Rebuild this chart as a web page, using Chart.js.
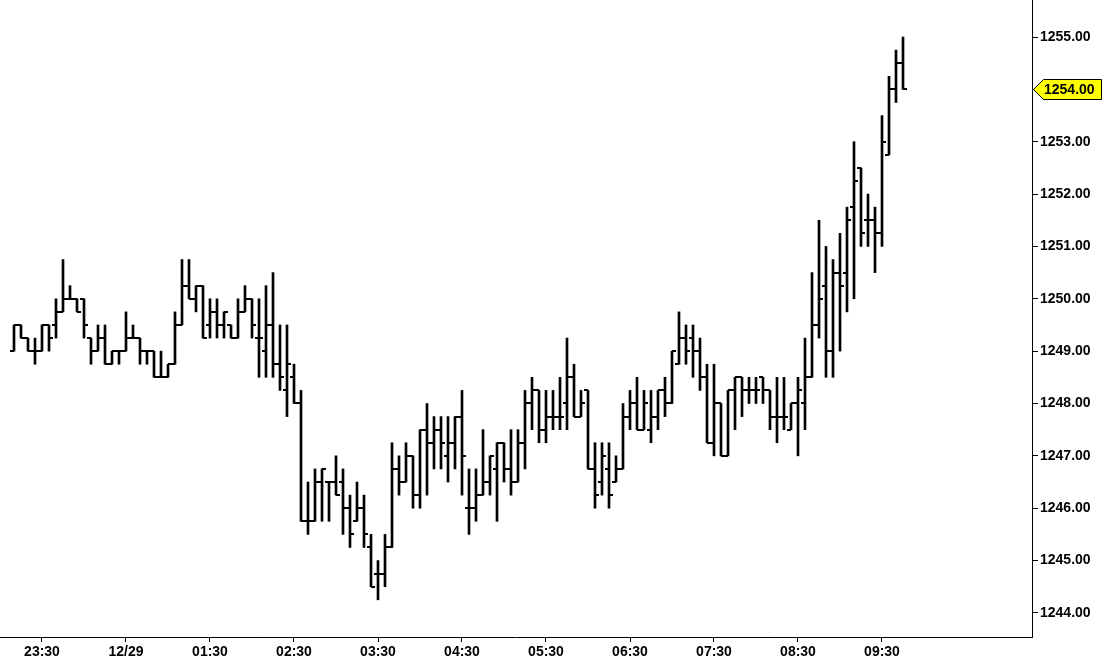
<!DOCTYPE html>
<html>
<head>
<meta charset="utf-8">
<script src="https://cdn.jsdelivr.net/npm/chart.js@4.4.1/dist/chart.umd.min.js"></script>
<style>
    html, body { margin: 0; padding: 0; background: #fff; }
    #wrap { width: 1112px; height: 663px; }
</style>
</head>
<body>
<div id="wrap"><canvas id="priceChart" width="1112" height="663"></canvas></div>
<script>
const times = [
    '23:10', '23:15', '23:20', '23:25', '23:30', '23:35', '23:40', '23:45', '23:50', '23:55',
    '00:00', '00:05', '00:10', '00:15', '00:20', '00:25', '00:30', '00:35', '00:40', '00:45', '00:50', '00:55',
    '01:00', '01:05', '01:10', '01:15', '01:20', '01:25', '01:30', '01:35', '01:40', '01:45', '01:50', '01:55',
    '02:00', '02:05', '02:10', '02:15', '02:20', '02:25', '02:30', '02:35', '02:40', '02:45', '02:50', '02:55',
    '03:00', '03:05', '03:10', '03:15', '03:20', '03:25', '03:30', '03:35', '03:40', '03:45', '03:50', '03:55',
    '04:00', '04:05', '04:10', '04:15', '04:20', '04:25', '04:30', '04:35', '04:40', '04:45', '04:50', '04:55',
    '05:00', '05:05', '05:10', '05:15', '05:20', '05:25', '05:30', '05:35', '05:40', '05:45', '05:50', '05:55',
    '06:00', '06:05', '06:10', '06:15', '06:20', '06:25', '06:30', '06:35', '06:40', '06:45', '06:50', '06:55',
    '07:00', '07:05', '07:10', '07:15', '07:20', '07:25', '07:30', '07:35', '07:40', '07:45', '07:50', '07:55',
    '08:00', '08:05', '08:10', '08:15', '08:20', '08:25', '08:30', '08:35', '08:40', '08:45', '08:50', '08:55',
    '09:00', '09:05', '09:10', '09:15', '09:20', '09:25', '09:30', '09:35', '09:40', '09:45'
];

const opens = [
    1249, 1249.5, 1249.25, 1249, 1249, 1249.5, 1249.5, 1249.75, 1250, 1250,
    1250, 1249.25, 1249, 1249.25, 1248.75, 1249, 1249, 1249.25, 1249.25, 1249,
    1249, 1248.5, 1248.5, 1248.75, 1249.5, 1250.25, 1250, 1250.25, 1249.5, 1249.75,
    1249.5, 1249.5, 1249.25, 1249.75, 1250, 1249.25, 1249, 1249.5, 1248.75, 1248.25,
    1248.5, 1248, 1245.75, 1245.75, 1246.5, 1246.5, 1246.5, 1246.5, 1246, 1245.75,
    1246, 1245.25, 1244.75, 1244.75, 1245.25, 1246.75, 1246.5, 1247, 1246.25, 1247.5,
    1247.25, 1247.5, 1247, 1247.25, 1247.75, 1246, 1246, 1246.25, 1246.5, 1246.75,
    1247.25, 1246.75, 1246.5, 1247.25, 1248, 1248.25, 1247.5, 1247.75, 1247.75, 1248,
    1248.5, 1247.75, 1248.25, 1246.75, 1246.5, 1246.75, 1246.5, 1246.75, 1247.75, 1248,
    1247.5, 1247.5, 1247.75, 1248.25, 1248, 1248.75, 1249.25, 1249.25, 1249, 1248.5,
    1247.25, 1248, 1247, 1248.25, 1248.5, 1248.25, 1248.25, 1248.5, 1248.25, 1247.75,
    1247.75, 1247.5, 1248, 1248, 1248.5, 1249.5, 1250.25, 1249, 1250.5, 1250.5,
    1251.75, 1252.5, 1251.5, 1251.5, 1251.25, 1252.75, 1254, 1254.5
];
const highs = [
    1249.5, 1249.5, 1249.25, 1249.25, 1249.5, 1249.5, 1250, 1250.75, 1250.25, 1250,
    1250, 1249.25, 1249.5, 1249.5, 1249, 1249, 1249.75, 1249.5, 1249.25, 1249,
    1249, 1249, 1248.75, 1249.75, 1250.75, 1250.75, 1250.25, 1250.25, 1250, 1250,
    1249.75, 1249.5, 1250, 1250.25, 1250, 1250, 1250.25, 1250.5, 1249.5, 1249.5,
    1248.75, 1248.25, 1246.5, 1246.75, 1246.75, 1246.5, 1247, 1246.75, 1246.25, 1246.5,
    1246.25, 1245.5, 1245, 1245.5, 1247.25, 1247, 1247.25, 1247, 1247.5, 1248,
    1247.75, 1247.75, 1247.75, 1247.75, 1248.25, 1246.75, 1246.75, 1247.5, 1247, 1247.25,
    1247.25, 1247.5, 1247.5, 1248.25, 1248.5, 1248.25, 1248.25, 1248.25, 1248.5, 1249.25,
    1248.75, 1248.25, 1248.25, 1247.25, 1247.25, 1247.25, 1247, 1248, 1248.25, 1248.5,
    1248.25, 1248.25, 1248.25, 1248.5, 1249, 1249.75, 1249.5, 1249.5, 1249.25, 1248.75,
    1248.75, 1248, 1248.25, 1248.5, 1248.5, 1248.5, 1248.5, 1248.5, 1248.25, 1248.5,
    1248.5, 1248, 1248.5, 1249.25, 1250.5, 1251.5, 1251, 1250.75, 1251.25, 1251.75,
    1253, 1252.5, 1252, 1251.75, 1253.5, 1254.25, 1254.75, 1255
];
const lows = [
    1249, 1249.25, 1249, 1248.75, 1249, 1249, 1249.25, 1249.75, 1250, 1249.75,
    1249.25, 1248.75, 1249, 1248.75, 1248.75, 1248.75, 1249, 1249.25, 1248.75, 1248.75,
    1248.5, 1248.5, 1248.5, 1248.75, 1249.5, 1250, 1249.75, 1249.25, 1249.25, 1249.25,
    1249.25, 1249.25, 1249.25, 1249.75, 1249.25, 1248.5, 1248.5, 1248.5, 1248.25, 1247.75,
    1248, 1245.75, 1245.5, 1245.75, 1245.75, 1245.75, 1246.25, 1245.5, 1245.25, 1245.75,
    1245.25, 1244.5, 1244.25, 1244.5, 1245.25, 1246.25, 1246.5, 1246, 1246, 1246.25,
    1246.75, 1246.75, 1246.5, 1246.75, 1246.25, 1245.5, 1245.75, 1246.25, 1246.25, 1245.75,
    1246.5, 1246.25, 1246.5, 1246.75, 1247.5, 1247.25, 1247.25, 1247.5, 1247.5, 1247.5,
    1247.75, 1247.75, 1246.75, 1246, 1246.25, 1246, 1246.5, 1246.75, 1247.5, 1247.5,
    1247.5, 1247.25, 1247.5, 1247.75, 1248, 1248.75, 1248.75, 1248.5, 1248.25, 1247.25,
    1247, 1247, 1247, 1247.5, 1247.75, 1248, 1248, 1248, 1247.5, 1247.25,
    1247.5, 1247.5, 1247, 1247.5, 1248.5, 1249.25, 1248.5, 1248.5, 1249, 1249.75,
    1250, 1251, 1251, 1250.5, 1251, 1252.75, 1253.75, 1254
];
const closes = [
    1249.5, 1249.25, 1249, 1249, 1249.5, 1249.25, 1249.75, 1250, 1250, 1249.75,
    1249.5, 1249, 1249.25, 1248.75, 1249, 1249, 1249.25, 1249.25, 1249, 1249,
    1248.5, 1248.5, 1248.75, 1249.5, 1250.25, 1250, 1250.25, 1249.25, 1249.75, 1249.5,
    1249.75, 1249.25, 1249.75, 1250, 1249.5, 1249.25, 1249.5, 1248.75, 1248.5, 1248.75,
    1248, 1245.75, 1245.75, 1246.5, 1246.75, 1246.5, 1246.25, 1246, 1245.5, 1246,
    1245.5, 1244.5, 1244.75, 1245.25, 1246.75, 1246.5, 1247, 1246.25, 1247.5, 1247.25,
    1247.5, 1247.25, 1247.25, 1247.75, 1247, 1246, 1246.25, 1246.5, 1247, 1247.25,
    1246.75, 1246.5, 1247.25, 1248, 1248.25, 1247.5, 1247.75, 1247.75, 1247.75, 1248.5,
    1247.75, 1248, 1246.75, 1246.25, 1247, 1246.25, 1246.75, 1247.75, 1248, 1247.5,
    1248, 1247.75, 1248.25, 1248, 1249, 1249.25, 1249, 1249, 1248.5, 1247.25,
    1248, 1247, 1248.25, 1248.5, 1248.25, 1248.25, 1248.25, 1248.25, 1247.75, 1247.75,
    1247.75, 1248, 1248.25, 1248.5, 1249.5, 1250, 1249, 1250.5, 1250.25, 1251.5,
    1252.25, 1251.25, 1251.5, 1251.25, 1253, 1254, 1254.5, 1254
];

const xTickTimes = ['23:30', '00:30', '01:30', '02:30', '03:30', '04:30', '05:30', '06:30', '07:30', '08:30', '09:30'];
const xTickLabels = ['23:30', '12/29', '01:30', '02:30', '03:30', '04:30', '05:30', '06:30', '07:30', '08:30', '09:30'];
const yTickValues = [1244, 1245, 1246, 1247, 1248, 1249, 1250, 1251, 1252, 1253, 1254, 1255];

(function () {
    // minutes since 23:00 on 12/28
    const toMinutes = (hhmm) => {
        const [h, m] = hhmm.split(':').map(Number);
        return ((h + 1) % 24) * 60 + m;
    };

    const makeTick = (side) => {
        const c = document.createElement('canvas');
        c.width = 8;
        c.height = 2;
        const g = c.getContext('2d');
        g.fillStyle = '#000';
        g.fillRect(side === 'left' ? 0 : 4, 0, 4, 2);
        return c;
    };

    const xs = times.map(toMinutes);
    const axisFont = { family: "'Liberation Sans', Arial, sans-serif", size: 14, weight: 'bold' };

    const lastPriceTag = {
        id: 'lastPriceTag',
        afterDraw(chart) {
            const y = Math.round(chart.scales.y.getPixelForValue(closes[closes.length - 1]));
            const left = chart.chartArea.right + 1;
            const ctx = chart.ctx;
            ctx.save();
            ctx.beginPath();
            ctx.moveTo(left + 0.5, y + 0.5);
            ctx.lineTo(left + 10.5, y - 9.5);
            ctx.lineTo(1101.5, y - 9.5);
            ctx.lineTo(1101.5, y + 10.5);
            ctx.lineTo(left + 10.5, y + 10.5);
            ctx.closePath();
            ctx.fillStyle = '#ffff00';
            ctx.fill();
            ctx.strokeStyle = '#000';
            ctx.lineWidth = 1;
            ctx.stroke();
            ctx.fillStyle = '#000';
            ctx.font = 'bold 14px "Liberation Sans", Arial, sans-serif';
            ctx.textBaseline = 'middle';
            ctx.textAlign = 'left';
            ctx.fillText(closes[closes.length - 1].toFixed(2), left + 11, y + 1);
            ctx.restore();
        },
    };

    new Chart(document.getElementById('priceChart'), {
        type: 'bar',
        data: {
            datasets: [
                {
                    type: 'bar',
                    data: xs.map((x, i) => ({ x: x, y: [lows[i], highs[i]] })),
                    backgroundColor: '#000',
                    borderWidth: 0,
                    barThickness: 2,
                    grouped: false,
                },
                {
                    type: 'scatter',
                    data: xs.map((x, i) => ({ x: x, y: opens[i] })),
                    pointStyle: makeTick('left'),
                    pointRadius: 3,
                },
                {
                    type: 'scatter',
                    data: xs.map((x, i) => ({ x: x, y: closes[i] })),
                    pointStyle: makeTick('right'),
                    pointRadius: 3,
                },
            ],
        },
        options: {
            responsive: false,
            animation: false,
            events: [],
            layout: { padding: 0, autoPadding: false },
            plugins: {
                legend: { display: false },
                tooltip: { enabled: false },
            },
            scales: {
                x: {
                    type: 'linear',
                    offset: false,
                    min: 0,
                    max: 1032 / 1.4,
                    afterBuildTicks: (scale) => {
                        scale.ticks = xTickTimes.map((t) => ({ value: toMinutes(t) }));
                    },
                    afterFit: (scale) => {
                        scale.height = 26;
                        scale.paddingLeft = 0;
                        scale.paddingRight = 0;
                    },
                    grid: {
                        display: true,
                        offset: false,
                        drawOnChartArea: false,
                        drawTicks: true,
                        tickLength: 5,
                        color: '#000',
                    },
                    border: { display: true, color: '#000', width: 1 },
                    ticks: {
                        autoSkip: false,
                        maxRotation: 0,
                        padding: 2,
                        color: '#000',
                        font: axisFont,
                        callback: (value) => {
                            const idx = xTickTimes.findIndex((t) => toMinutes(t) === value);
                            return idx >= 0 ? xTickLabels[idx] : '';
                        },
                    },
                },
                y: {
                    position: 'right',
                    min: 1243.54,
                    max: 1255.707,
                    afterBuildTicks: (scale) => {
                        scale.ticks = yTickValues.map((v) => ({ value: v }));
                    },
                    afterFit: (scale) => {
                        scale.width = 80;
                        scale.paddingTop = 0;
                        scale.paddingBottom = 0;
                    },
                    grid: {
                        display: true,
                        drawOnChartArea: false,
                        drawTicks: true,
                        tickLength: 6,
                        color: '#000',
                    },
                    border: { display: true, color: '#000', width: 1 },
                    ticks: {
                        padding: 2,
                        color: '#000',
                        font: axisFont,
                        callback: (value) => Number(value).toFixed(2),
                    },
                },
            },
        },
        plugins: [lastPriceTag],
    });
})();
</script>
</body>
</html>
